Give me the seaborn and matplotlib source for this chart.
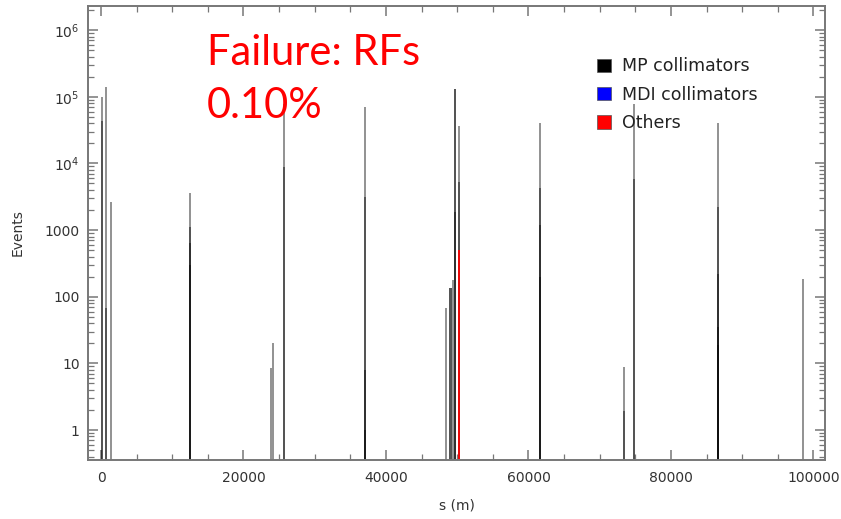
import numpy as np
import pandas as pd
import matplotlib
matplotlib.use("Agg")
import matplotlib.pyplot as plt
import seaborn as sns
from matplotlib.patches import Patch
from matplotlib.ticker import FixedLocator, MultipleLocator, LogLocator, NullFormatter, FixedFormatter

# ---------------- data ----------------
# MP collimator losses: position s (m), number of events, overlap layer
mp_s = [140, 140, 840, 840, 1200,
        12350, 12350, 12350, 12350,
        23800, 24000,
        25540, 25540,
        37190, 37190, 37190, 37190,
        48560, 49120, 49120, 49260,
        49680, 49680, 49680,
        50250, 50250,
        61610, 61610, 61610, 61610,
        73260, 73260,
        74950, 74950,
        86600, 86600, 86600, 86600, 86600,
        98530]
mp_events = [1.0e5, 4.4e4, 1.4e5, 67, 2600,
             3550, 1100, 640, 300,
             8.5, 20,
             7.7e4, 8800,
             7.0e4, 3100, 8, 1,
             67, 135, 135, 180,
             1.3e5, 1.3e5, 1850,
             3.6e4, 5200,
             4.1e4, 4300, 1200, 200,
             8.8, 1.9,
             7.7e4, 5800,
             4.1e4, 2200, 220, 35, 19,
             184]
mp_layer = [0, 1, 0, 1, 0,
            0, 1, 2, 3,
            0, 0,
            0, 1,
            0, 1, 2, 3,
            0, 0, 1, 0,
            0, 1, 2,
            0, 1,
            0, 1, 2, 3,
            0, 1,
            0, 1,
            0, 1, 2, 3, 4,
            0]

# MDI collimators: no losses in this failure scenario
mdi_s = []
mdi_events = []

# Other elements
others_s = [50250]
others_events = [500]

legend_labels = ["MP collimators", "MDI collimators", "Others"]
legend_colors = ["black", "blue", "red"]

x_major = [0, 20000, 40000, 60000, 80000, 100000]
x_labels = ["0", "20000", "40000", "60000", "80000", "100000"]
y_major = [1, 10, 100, 1000, 1e4, 1e5, 1e6]
y_labels = ["1", "10", "100", "1000", r"$10^4$", r"$10^5$", r"$10^6$"]

title_line1 = "Failure: RFs"
title_line2 = "0.10%"

# ---------------- plot ----------------
sns.set_style("ticks")
plt.rcParams["font.family"] = ["DejaVu Sans"]
plt.rcParams["mathtext.default"] = "regular"

fig = plt.figure(figsize=(8.41, 5.19), dpi=100)
ax = fig.add_axes([88 / 841, 1 - 460 / 519, (825 - 88) / 841, (460 - 6) / 519])
ax.set_yscale("log")

BW = 300
BR = (0, 100200)

df_mp = pd.DataFrame({"s": mp_s, "events": mp_events,
                      "layer": ["L%d" % l for l in mp_layer]})
layers = sorted(df_mp["layer"].unique())
sns.histplot(data=df_mp, x="s", weights="events", hue="layer", hue_order=layers,
             multiple="layer", binwidth=BW, binrange=BR,
             palette={l: "black" for l in layers}, alpha=0.42, linewidth=0,
             legend=False, ax=ax)

df_ot = pd.DataFrame({"s": others_s, "events": others_events})
sns.histplot(data=df_ot, x="s", weights="events", binwidth=BW, binrange=BR,
             color="red", alpha=0.9, linewidth=0, legend=False, ax=ax)

ax.set_xlim(-1825, 101620)
ax.set_ylim(0.355, 2.3e6)

spine_c = "#777777"
for sp in ax.spines.values():
    sp.set_visible(True)
    sp.set_color(spine_c)
    sp.set_linewidth(1.4)

ax.xaxis.set_major_locator(FixedLocator(x_major))
ax.xaxis.set_major_formatter(FixedFormatter(x_labels))
ax.xaxis.set_minor_locator(MultipleLocator(5000))
ax.yaxis.set_major_locator(FixedLocator(y_major))
ax.yaxis.set_major_formatter(FixedFormatter(y_labels))
ax.yaxis.set_minor_locator(LogLocator(base=10, subs=np.arange(2, 10), numticks=20))
ax.yaxis.set_minor_formatter(NullFormatter())

ax.tick_params(which="both", direction="in", top=True, right=True,
               color=spine_c, labelcolor="#333333", labelsize=10)
ax.tick_params(which="major", length=7, width=1.1)
ax.tick_params(which="minor", length=4, width=0.9)
ax.tick_params(axis="x", which="major", pad=8)
ax.tick_params(axis="y", which="major", pad=6)

ax.set_xlabel("s (m)", fontsize=10, color="#333333")
ax.set_ylabel("Events", fontsize=10, color="#333333")
ax.xaxis.set_label_coords(0.5, -0.085)
ax.yaxis.set_label_coords(-(88 - 25) / 737, 0.5)

handles = [Patch(facecolor=c, edgecolor="#555555", linewidth=0.5, label=l)
           for c, l in zip(legend_colors, legend_labels)]
leg = ax.legend(handles=handles, loc="upper left", bbox_to_anchor=(0.691, 0.887),
                frameon=False, fontsize=12.5, handlelength=0.8, handleheight=0.8,
                handletextpad=0.65, labelspacing=0.6, borderpad=0, borderaxespad=0)
for t in leg.get_texts():
    t.set_color("#222222")

fig.text(207 / 841, 1 - 65 / 519, title_line1, color="red", fontsize=30,
         family=["Lato", "DejaVu Sans"], va="baseline", ha="left")
fig.text(207 / 841, 1 - 118 / 519, title_line2, color="red", fontsize=30,
         family=["Lato", "DejaVu Sans"], va="baseline", ha="left")

fig.savefig("out.png", dpi=100)
